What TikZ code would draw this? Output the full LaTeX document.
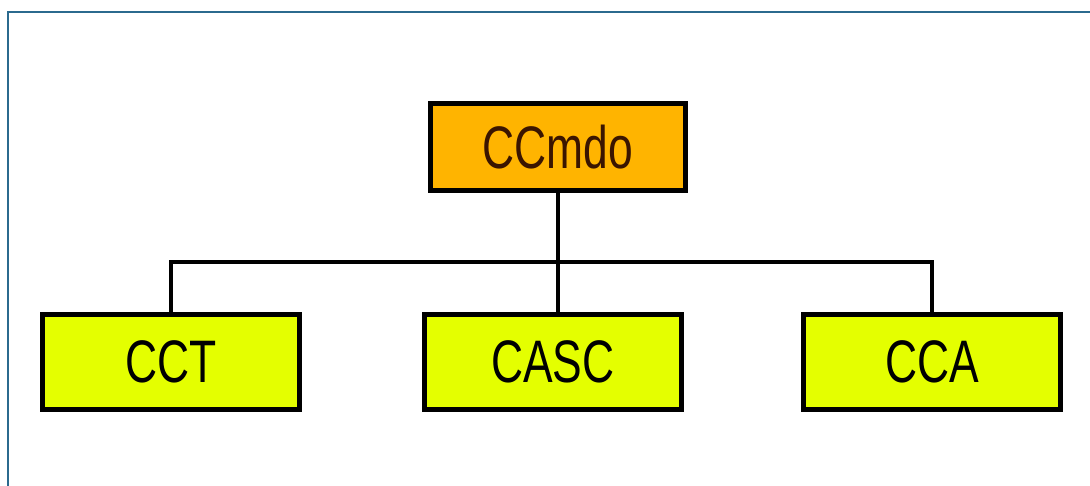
\documentclass[tikz,border=0pt]{standalone}
\usepackage{fontspec}
\setmainfont{Liberation Sans}[FakeStretch=0.74]
\definecolor{framec}{HTML}{2B6A8E}
\definecolor{topfill}{HTML}{FFB400}
\definecolor{subfill}{HTML}{E4FF00}
\definecolor{toptext}{HTML}{3A1500}
\begin{document}
\begin{tikzpicture}[x=1pt,y=-1pt,
  orgbox/.style={draw=black,line width=5pt,minimum width=257pt,minimum height=95pt,inner sep=0pt,font=\fontsize{60}{60}\selectfont},
  link/.style={draw=black,line width=4pt}]
\useasboundingbox (0,0) rectangle (1090,486);
\clip (0,0) rectangle (1090,486);
\fill[white] (0,0) rectangle (1090,486);
\draw[framec,line width=2.5pt] (8,500) -- (8,12) -- (1100,12);
\node[orgbox,fill=topfill,text=toptext,minimum width=255pt,minimum height=87pt] (top) at (558,147) {CCmdo};
\node[orgbox,fill=subfill] (cct) at (171,362) {CCT};
\node[orgbox,fill=subfill] (casc) at (553,362) {CASC};
\node[orgbox,fill=subfill] (cca) at (932,362) {CCA};
\coordinate (bus) at (558,262);
\draw[link] (top.south) -- (bus);
\draw[link] (cct.north) |- (bus) -| (cca.north);
\draw[link] (casc.north -| bus) -- (bus);
\end{tikzpicture}
\end{document}
